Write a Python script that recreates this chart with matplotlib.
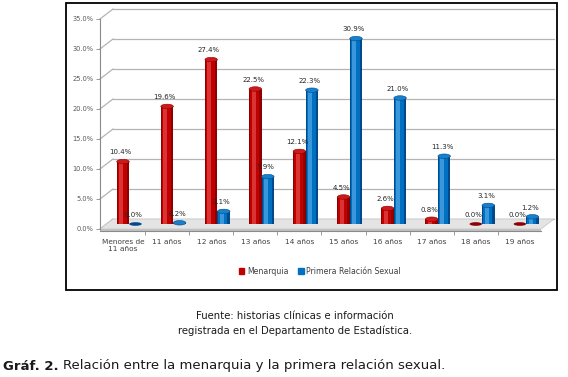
import matplotlib
matplotlib.use("Agg")
import matplotlib.pyplot as plt
from matplotlib.patches import Ellipse, Rectangle, Patch
import numpy as np

categories = ["Menores de\n11 años", "11 años", "12 años", "13 años", "14 años",
              "15 años", "16 años", "17 años", "18 años", "19 años"]
menarquia = [10.4, 19.6, 27.4, 22.5, 12.1, 4.5, 2.6, 0.8, 0.0, 0.0]
primera = [0.0, 0.2, 2.1, 7.9, 22.3, 30.9, 21.0, 11.3, 3.1, 1.2]
yticks = [0, 5, 10, 15, 20, 25, 30, 35]
series_names = ["Menarquia", "Primera Relación Sexual"]

W, H = 568, 377
fig = plt.figure(figsize=(W / 100, H / 100), dpi=100)

# axes placed in pixel space: x px 95..560, y px 5..240 (from top)
px_l, px_r, py_t, py_b = 95, 560, 5, 240
ax = fig.add_axes([px_l / W, 1 - py_b / H, (px_r - px_l) / W, (py_b - py_t) / H])
step = 44.1
x0 = 123
ax.set_xlim((px_l - x0) / step, (px_r - x0) / step)
ax.set_ylim((224 - py_b) / 6, (224 - py_t) / 6)
ax.patch.set_alpha(0)

d = 0.833          # half-depth in y units
dx = 13 / step     # depth shift in x units
xl_front = (100 - x0) / step
xr_front = (541 - x0) / step

# back wall gridlines + diagonals
gridc = "#b4b4b4"
for v in yticks:
    ax.plot([xl_front, xl_front + dx], [v - d, v + d], color=gridc, lw=0.9, zorder=1)
    ax.plot([xl_front + dx, xr_front + dx], [v + d, v + d], color=gridc, lw=0.9, zorder=1)

# floor
ax.fill([xl_front, xr_front, xr_front + dx, xl_front + dx],
        [-d, -d, d, d], color="#e4e4e4", ec="#c8c8c8", lw=0.6, zorder=2)
ax.fill([xl_front, xr_front, xr_front, xl_front],
        [-d - 0.35, -d - 0.35, -d, -d], color="#c2c2c2", lw=0, zorder=2)

# axis spines
for s in ["top", "right"]:
    ax.spines[s].set_visible(False)
ax.spines["left"].set_position(("data", xl_front))
ax.spines["left"].set_bounds(-d, 35 - d)
ax.spines["left"].set_color("#8a8a8a")
ax.spines["bottom"].set_position(("data", -d - 0.35))
ax.spines["bottom"].set_bounds(xl_front, xr_front)
ax.spines["bottom"].set_color("#8a8a8a")

ax.set_yticks([v - d for v in yticks])
ax.set_yticklabels([f"{v:.1f}%" for v in yticks], fontsize=4.8, color="#595959")
ax.tick_params(axis="y", length=3, width=0.6, color="#8a8a8a", pad=1.5)

xs = np.arange(len(categories))
ax.set_xticks(xs)
ax.set_xticklabels(categories, fontsize=5.3, color="#404040", linespacing=1.25, va="top")
ax.tick_params(axis="x", which="major", length=0, pad=5.5)
ax.set_xticks(list(xs[:-1] + 0.5), minor=True)
ax.tick_params(axis="x", which="minor", length=3, width=0.6, color="#8a8a8a")

bw = 12.5 / step
off_r = 0.0
off_b = 12.5 / step

def cylinder(xc, vals, dark, mid, light, top, label_color="#262626"):
    ax.bar(xc, vals, bw, color=dark, lw=0, zorder=4)
    ax.bar(xc - 0.06 * bw, vals, bw * 0.72, color=mid, lw=0, zorder=5)
    ax.bar(xc - 0.14 * bw, vals, bw * 0.32, color=light, lw=0, zorder=6)
    for x, v in zip(xc, vals):
        if v > 0.05:
            ax.add_patch(Ellipse((x, v), bw, 0.75, color=top, ec=dark, lw=0.4, zorder=7))
        else:
            ax.add_patch(Ellipse((x, 0), bw, 0.6, color=dark, lw=0, zorder=7))
        ax.text(x - 0.05, v + 1.05, f"{v:.1f}%", fontsize=5.0, color=label_color,
                ha="center", va="bottom", zorder=8)

cylinder(xs + off_r, menarquia, "#8e0000", "#c00000", "#d93333", "#cc1a1a")
cylinder(xs + off_b, primera, "#004a8c", "#0070c0", "#3a97dc", "#1680cc")

# legend
handles = [Patch(color="#c00000"), Patch(color="#0070c0")]
fig.legend(handles, series_names, loc="center", bbox_to_anchor=(320 / W, 1 - 271 / H),
           ncol=2, frameon=False, fontsize=5.6, handlelength=0.7, handleheight=0.7,
           handletextpad=0.3, columnspacing=1.3, labelcolor="#404040")

# chart border
fig.patches.append(Rectangle((66 / W, 1 - 290 / H), (557 - 66) / W, (290 - 3) / H,
                             transform=fig.transFigure, fill=False, ec="black", lw=1.3))

# captions
fig.text(295 / W, 1 - 316 / H, "Fuente: historias clínicas e información",
         ha="center", va="center", fontsize=7.3, color="#1a1a1a")
fig.text(295 / W, 1 - 331 / H, "registrada en el Departamento de Estadística.",
         ha="center", va="center", fontsize=7.3, color="#1a1a1a")
fig.text(3 / W, 1 - 366 / H, "Gráf. 2.", ha="left", va="center", fontsize=9.5,
         fontweight="bold", color="#1a1a1a")
fig.text(63 / W, 1 - 366 / H, "Relación entre la menarquia y la primera relación sexual.",
         ha="left", va="center", fontsize=9.5, color="#1a1a1a")

fig.savefig("out.png", dpi=100)
